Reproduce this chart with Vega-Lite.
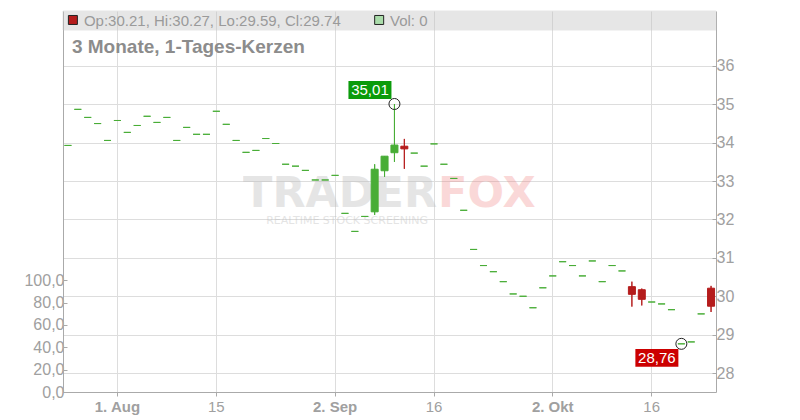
{
  "$schema": "https://vega.github.io/schema/vega-lite/v6.json",
  "width": 653,
  "height": 381,
  "autosize": {"type": "none"},
  "padding": {"left": 63, "top": 11, "right": 84, "bottom": 28},
  "background": "white",
  "config": {"font": "Liberation Sans", "view": {"stroke": null}},
  "datasets": {
    "ohlc": [
      {"d": "2025-07-25", "o": 33.93, "h": 33.93, "l": 33.93, "c": 33.93, "v": 0},
      {"d": "2025-07-28", "o": 34.87, "h": 34.87, "l": 34.87, "c": 34.87, "v": 0},
      {"d": "2025-07-29", "o": 34.66, "h": 34.66, "l": 34.66, "c": 34.66, "v": 0},
      {"d": "2025-07-30", "o": 34.50, "h": 34.50, "l": 34.50, "c": 34.50, "v": 0},
      {"d": "2025-07-31", "o": 34.06, "h": 34.06, "l": 34.06, "c": 34.06, "v": 0},
      {"d": "2025-08-01", "o": 34.58, "h": 34.58, "l": 34.58, "c": 34.58, "v": 0},
      {"d": "2025-08-04", "o": 34.27, "h": 34.27, "l": 34.27, "c": 34.27, "v": 0},
      {"d": "2025-08-05", "o": 34.45, "h": 34.45, "l": 34.45, "c": 34.45, "v": 0},
      {"d": "2025-08-06", "o": 34.69, "h": 34.69, "l": 34.69, "c": 34.69, "v": 0},
      {"d": "2025-08-07", "o": 34.53, "h": 34.53, "l": 34.53, "c": 34.53, "v": 0},
      {"d": "2025-08-08", "o": 34.66, "h": 34.66, "l": 34.66, "c": 34.66, "v": 0},
      {"d": "2025-08-11", "o": 34.06, "h": 34.06, "l": 34.06, "c": 34.06, "v": 0},
      {"d": "2025-08-12", "o": 34.40, "h": 34.40, "l": 34.40, "c": 34.40, "v": 0},
      {"d": "2025-08-13", "o": 34.22, "h": 34.22, "l": 34.22, "c": 34.22, "v": 0},
      {"d": "2025-08-14", "o": 34.22, "h": 34.22, "l": 34.22, "c": 34.22, "v": 0},
      {"d": "2025-08-15", "o": 34.82, "h": 34.82, "l": 34.82, "c": 34.82, "v": 0},
      {"d": "2025-08-18", "o": 34.48, "h": 34.48, "l": 34.48, "c": 34.48, "v": 0},
      {"d": "2025-08-19", "o": 34.06, "h": 34.06, "l": 34.06, "c": 34.06, "v": 0},
      {"d": "2025-08-20", "o": 33.75, "h": 33.75, "l": 33.75, "c": 33.75, "v": 0},
      {"d": "2025-08-21", "o": 33.80, "h": 33.80, "l": 33.80, "c": 33.80, "v": 0},
      {"d": "2025-08-22", "o": 34.11, "h": 34.11, "l": 34.11, "c": 34.11, "v": 0},
      {"d": "2025-08-25", "o": 33.98, "h": 33.98, "l": 33.98, "c": 33.98, "v": 0},
      {"d": "2025-08-26", "o": 33.44, "h": 33.44, "l": 33.44, "c": 33.44, "v": 0},
      {"d": "2025-08-27", "o": 33.39, "h": 33.39, "l": 33.39, "c": 33.39, "v": 0},
      {"d": "2025-08-28", "o": 33.28, "h": 33.28, "l": 33.28, "c": 33.28, "v": 0},
      {"d": "2025-08-29", "o": 33.03, "h": 33.03, "l": 33.03, "c": 33.03, "v": 0},
      {"d": "2025-09-01", "o": 33.03, "h": 33.03, "l": 33.03, "c": 33.03, "v": 0},
      {"d": "2025-09-02", "o": 33.15, "h": 33.15, "l": 33.15, "c": 33.15, "v": 0},
      {"d": "2025-09-03", "o": 32.16, "h": 32.16, "l": 32.16, "c": 32.16, "v": 0},
      {"d": "2025-09-04", "o": 31.69, "h": 31.69, "l": 31.69, "c": 31.69, "v": 0},
      {"d": "2025-09-05", "o": 32.08, "h": 32.08, "l": 32.08, "c": 32.08, "v": 0},
      {"d": "2025-09-08", "o": 32.20, "h": 33.44, "l": 32.12, "c": 33.31, "v": 0},
      {"d": "2025-09-09", "o": 33.27, "h": 33.65, "l": 33.11, "c": 33.65, "v": 0},
      {"d": "2025-09-10", "o": 33.74, "h": 35.01, "l": 33.50, "c": 33.94, "v": 0},
      {"d": "2025-09-11", "o": 33.91, "h": 34.10, "l": 33.32, "c": 33.84, "v": 0},
      {"d": "2025-09-12", "o": 33.73, "h": 33.73, "l": 33.73, "c": 33.73, "v": 0},
      {"d": "2025-09-15", "o": 33.39, "h": 33.39, "l": 33.39, "c": 33.39, "v": 0},
      {"d": "2025-09-16", "o": 33.97, "h": 33.97, "l": 33.97, "c": 33.97, "v": 0},
      {"d": "2025-09-17", "o": 33.44, "h": 33.44, "l": 33.44, "c": 33.44, "v": 0},
      {"d": "2025-09-18", "o": 33.07, "h": 33.07, "l": 33.07, "c": 33.07, "v": 0},
      {"d": "2025-09-19", "o": 32.24, "h": 32.24, "l": 32.24, "c": 32.24, "v": 0},
      {"d": "2025-09-22", "o": 31.22, "h": 31.22, "l": 31.22, "c": 31.22, "v": 0},
      {"d": "2025-09-23", "o": 30.80, "h": 30.80, "l": 30.80, "c": 30.80, "v": 0},
      {"d": "2025-09-24", "o": 30.64, "h": 30.64, "l": 30.64, "c": 30.64, "v": 0},
      {"d": "2025-09-25", "o": 30.38, "h": 30.38, "l": 30.38, "c": 30.38, "v": 0},
      {"d": "2025-09-26", "o": 30.06, "h": 30.06, "l": 30.06, "c": 30.06, "v": 0},
      {"d": "2025-09-29", "o": 30.00, "h": 30.00, "l": 30.00, "c": 30.00, "v": 0},
      {"d": "2025-09-30", "o": 29.70, "h": 29.70, "l": 29.70, "c": 29.70, "v": 0},
      {"d": "2025-10-01", "o": 30.22, "h": 30.22, "l": 30.22, "c": 30.22, "v": 0},
      {"d": "2025-10-02", "o": 30.53, "h": 30.53, "l": 30.53, "c": 30.53, "v": 0},
      {"d": "2025-10-03", "o": 30.90, "h": 30.90, "l": 30.90, "c": 30.90, "v": 0},
      {"d": "2025-10-06", "o": 30.80, "h": 30.80, "l": 30.80, "c": 30.80, "v": 0},
      {"d": "2025-10-07", "o": 30.53, "h": 30.53, "l": 30.53, "c": 30.53, "v": 0},
      {"d": "2025-10-08", "o": 30.92, "h": 30.92, "l": 30.92, "c": 30.92, "v": 0},
      {"d": "2025-10-09", "o": 30.38, "h": 30.38, "l": 30.38, "c": 30.38, "v": 0},
      {"d": "2025-10-10", "o": 30.80, "h": 30.80, "l": 30.80, "c": 30.80, "v": 0},
      {"d": "2025-10-13", "o": 30.66, "h": 30.66, "l": 30.66, "c": 30.66, "v": 0},
      {"d": "2025-10-14", "o": 30.25, "h": 30.38, "l": 29.73, "c": 30.05, "v": 0},
      {"d": "2025-10-15", "o": 30.17, "h": 30.20, "l": 29.76, "c": 29.92, "v": 0},
      {"d": "2025-10-16", "o": 29.85, "h": 29.85, "l": 29.85, "c": 29.85, "v": 0},
      {"d": "2025-10-17", "o": 29.80, "h": 29.80, "l": 29.80, "c": 29.80, "v": 0},
      {"d": "2025-10-20", "o": 29.65, "h": 29.65, "l": 29.65, "c": 29.65, "v": 0},
      {"d": "2025-10-21", "o": 28.76, "h": 28.76, "l": 28.76, "c": 28.76, "v": 0},
      {"d": "2025-10-22", "o": 28.81, "h": 28.81, "l": 28.81, "c": 28.81, "v": 0},
      {"d": "2025-10-23", "o": 29.54, "h": 29.54, "l": 29.54, "c": 29.54, "v": 0},
      {"d": "2025-10-24", "o": 30.21, "h": 30.27, "l": 29.59, "c": 29.74, "v": 0}
    ]
  },
  "data": {"name": "ohlc"},
  "resolve": {"scale": {"y": "independent"}},
  "layer": [
    {
      "mark": {"type": "bar", "size": 7, "opacity": 0},
      "encoding": {
        "x": {
          "field": "d", "type": "ordinal", "title": null,
          "scale": {"paddingInner": 0, "paddingOuter": 0},
          "axis": {
            "values": ["2025-08-01", "2025-08-15", "2025-09-02", "2025-09-16", "2025-10-02", "2025-10-16"],
            "labelExpr": "datum.value == '2025-08-01' ? '1. Aug' : datum.value == '2025-09-02' ? '2. Sep' : datum.value == '2025-10-02' ? '2. Okt' : datum.value == '2025-08-15' ? '15' : '16'",
            "labelFontWeight": {"condition": {"test": "datum.value == '2025-08-01' || datum.value == '2025-09-02' || datum.value == '2025-10-02'", "value": "bold"}, "value": "normal"},
            "labelAngle": 0, "labelFontSize": 15, "labelColor": "#a0a0a0",
            "grid": true, "gridColor": "#dddddd",
            "tickSize": 4, "tickColor": "#aaaaaa", "domainColor": "#aaaaaa", "labelPadding": 3
          }
        },
        "y": {
          "field": "v", "type": "quantitative",
          "scale": {"domain": [0, 341], "nice": false, "zero": true},
          "axis": {
            "orient": "left", "title": null, "grid": false,
            "values": [0, 20, 40, 60, 80, 100],
            "labelExpr": "replace(format(datum.value, '.1f'), '.', ',')",
            "tickSize": -4, "labelPadding": 3,
            "domainColor": "#aaaaaa", "tickColor": "#aaaaaa",
            "labelColor": "#a0a0a0", "labelFontSize": 16
          }
        }
      }
    },
    {
      "data": {"values": [{"k": "header"}]},
      "mark": {"type": "rect", "fill": "#c4c4c4", "opacity": 0.42, "stroke": "#c8c8c8", "strokeWidth": 1},
      "encoding": {
        "y": {"datum": 37.433, "type": "quantitative", "scale": {"domain": [27.505, 37.433], "nice": false, "zero": false}, "axis": null},
        "y2": {"datum": 36.938}
      }
    },
    {
      "mark": {"type": "rule", "strokeWidth": 1},
      "encoding": {
        "x": {"field": "d", "type": "ordinal", "title": null},
        "y": {
          "field": "l", "type": "quantitative", "title": null,
          "scale": {"domain": [27.505, 37.433], "nice": false, "zero": false},
          "axis": {
            "orient": "right", "values": [28, 29, 30, 31, 32, 33, 34, 35, 36],
            "format": "d", "grid": true, "gridColor": "#dddddd",
            "tickSize": -4, "labelPadding": 4, "tickColor": "#aaaaaa", "domainColor": "#aaaaaa",
            "labelColor": "#a0a0a0", "labelFontSize": 16
          }
        },
        "y2": {"field": "h"},
        "color": {"condition": {"test": "datum.c < datum.o", "value": "#b51c1c"}, "value": "#48ad36"}
      }
    },
    {
      "data": {"values": [{"t": "TRADER"}]},
      "mark": {"type": "text", "align": "right", "baseline": "alphabetic", "dx": 3, "font": "DejaVu Sans", "fontWeight": "bold", "fontSize": 43, "color": "#bdbdbd", "opacity": 0.38},
      "encoding": {
        "x": {"datum": "2025-09-16", "type": "ordinal", "title": null},
        "y": {"datum": 32.326, "type": "quantitative", "scale": {"domain": [27.505, 37.433], "nice": false, "zero": false}, "axis": null},
        "text": {"field": "t"}
      }
    },
    {
      "data": {"values": [{"t": "FOX"}]},
      "mark": {"type": "text", "align": "left", "baseline": "alphabetic", "dx": 4, "font": "DejaVu Sans", "fontWeight": "bold", "fontSize": 43, "color": "#f07f7f", "opacity": 0.3},
      "encoding": {
        "x": {"datum": "2025-09-16", "type": "ordinal", "title": null},
        "y": {"datum": 32.326, "type": "quantitative", "scale": {"domain": [27.505, 37.433], "nice": false, "zero": false}, "axis": null},
        "text": {"field": "t"}
      }
    },
    {
      "data": {"values": [{"t": "REALTIME STOCK SCREENING"}]},
      "mark": {"type": "text", "align": "right", "baseline": "alphabetic", "dx": -6, "font": "DejaVu Sans", "fontSize": 11, "color": "#bdbdbd", "opacity": 0.4},
      "encoding": {
        "x": {"datum": "2025-09-16", "type": "ordinal", "title": null},
        "y": {"datum": 31.89, "type": "quantitative", "scale": {"domain": [27.505, 37.433], "nice": false, "zero": false}, "axis": null},
        "text": {"field": "t"}
      }
    },
    {
      "mark": {"type": "rule", "strokeWidth": 1},
      "encoding": {
        "x": {"field": "d", "type": "ordinal", "title": null},
        "y": {"field": "l", "type": "quantitative", "scale": {"domain": [27.505, 37.433], "nice": false, "zero": false}, "axis": null},
        "y2": {"field": "h"},
        "color": {"condition": {"test": "datum.c < datum.o", "value": "#b51c1c"}, "value": "#48ad36"}
      }
    },
    {
      "mark": {"type": "bar", "size": 7, "strokeWidth": 1},
      "encoding": {
        "x": {"field": "d", "type": "ordinal", "title": null},
        "y": {"field": "o", "type": "quantitative", "scale": {"domain": [27.505, 37.433], "nice": false, "zero": false}, "axis": null},
        "y2": {"field": "c"},
        "color": {"condition": {"test": "datum.c < datum.o", "value": "#b51c1c"}, "value": "#48ad36"},
        "stroke": {"condition": {"test": "datum.c < datum.o", "value": "#b51c1c"}, "value": "#48ad36"}
      }
    },
    {
      "data": {"values": [{"d": "2025-09-10", "p": 35.01}]},
      "mark": {"type": "point", "shape": "M-2,-1L-0.13,-1L-0.13,-0.22L-2,-0.22Z", "size": 2116, "filled": true, "color": "#0b9b0b", "opacity": 1},
      "encoding": {
        "x": {"field": "d", "type": "ordinal", "title": null},
        "y": {"field": "p", "type": "quantitative", "scale": {"domain": [27.505, 37.433], "nice": false, "zero": false}, "axis": null}
      }
    },
    {
      "data": {"values": [{"d": "2025-10-21", "p": 28.76}]},
      "mark": {"type": "point", "shape": "M-2,0.22L-0.13,0.22L-0.13,1L-2,1Z", "size": 2116, "filled": true, "color": "#cc0000", "opacity": 1},
      "encoding": {
        "x": {"field": "d", "type": "ordinal", "title": null},
        "y": {"field": "p", "type": "quantitative", "scale": {"domain": [27.505, 37.433], "nice": false, "zero": false}, "axis": null}
      }
    },
    {
      "data": {"values": [{"d": "2025-09-10", "p": 35.01}, {"d": "2025-10-21", "p": 28.76}]},
      "mark": {"type": "point", "shape": "circle", "size": 121, "filled": false, "stroke": "#222222", "strokeWidth": 1, "opacity": 1},
      "encoding": {
        "x": {"field": "d", "type": "ordinal", "title": null},
        "y": {"field": "p", "type": "quantitative", "scale": {"domain": [27.505, 37.433], "nice": false, "zero": false}, "axis": null}
      }
    },
    {
      "data": {"values": [{"d": "2025-09-10", "p": 35.01, "t": "35,01"}]},
      "mark": {"type": "text", "align": "center", "baseline": "middle", "dx": -24.5, "dy": -13.5, "fontSize": 15, "color": "white"},
      "encoding": {
        "x": {"field": "d", "type": "ordinal", "title": null},
        "y": {"field": "p", "type": "quantitative", "scale": {"domain": [27.505, 37.433], "nice": false, "zero": false}, "axis": null},
        "text": {"field": "t"}
      }
    },
    {
      "data": {"values": [{"d": "2025-10-21", "p": 28.76, "t": "28,76"}]},
      "mark": {"type": "text", "align": "center", "baseline": "middle", "dx": -24.5, "dy": 14.5, "fontSize": 15, "color": "white"},
      "encoding": {
        "x": {"field": "d", "type": "ordinal", "title": null},
        "y": {"field": "p", "type": "quantitative", "scale": {"domain": [27.505, 37.433], "nice": false, "zero": false}, "axis": null},
        "text": {"field": "t"}
      }
    },
    {
      "data": {"values": [{"t": "3 Monate, 1-Tages-Kerzen"}]},
      "mark": {"type": "text", "align": "left", "baseline": "alphabetic", "dx": 4, "fontSize": 19, "fontWeight": "bold", "color": "#8c8c8c"},
      "encoding": {
        "x": {"datum": "2025-07-25", "type": "ordinal", "title": null},
        "y": {"datum": 36.331, "type": "quantitative", "scale": {"domain": [27.505, 37.433], "nice": false, "zero": false}, "axis": null},
        "text": {"field": "t"}
      }
    },
    {
      "data": {"values": [{"t": "Op:30.21, Hi:30.27, Lo:29.59, Cl:29.74"}]},
      "mark": {"type": "text", "align": "left", "baseline": "alphabetic", "dx": 16, "fontSize": 15, "color": "#9a9a9a"},
      "encoding": {
        "x": {"datum": "2025-07-25", "type": "ordinal", "title": null},
        "y": {"datum": 37.042, "type": "quantitative", "scale": {"domain": [27.505, 37.433], "nice": false, "zero": false}, "axis": null},
        "text": {"field": "t"}
      }
    },
    {
      "data": {"values": [{"t": "Vol: 0"}]},
      "mark": {"type": "text", "align": "left", "baseline": "alphabetic", "dx": 15.3, "fontSize": 15, "color": "#9a9a9a"},
      "encoding": {
        "x": {"datum": "2025-09-08", "type": "ordinal", "title": null},
        "y": {"datum": 37.042, "type": "quantitative", "scale": {"domain": [27.505, 37.433], "nice": false, "zero": false}, "axis": null},
        "text": {"field": "t"}
      }
    },
    {
      "data": {"values": [{"k": "ohlc"}]},
      "mark": {"type": "point", "shape": "M0.1,-1L2.1,-1L2.1,1L0.1,1Z", "size": 81, "filled": true, "color": "#b51c1c", "stroke": "#222222", "strokeWidth": 1, "opacity": 1},
      "encoding": {
        "x": {"datum": "2025-07-25", "type": "ordinal", "title": null},
        "y": {"datum": 37.199, "type": "quantitative", "scale": {"domain": [27.505, 37.433], "nice": false, "zero": false}, "axis": null}
      }
    },
    {
      "data": {"values": [{"k": "vol"}]},
      "mark": {"type": "point", "shape": "M0,-1L2,-1L2,1L0,1Z", "size": 81, "filled": true, "color": "#aadcaa", "stroke": "#222222", "strokeWidth": 1, "opacity": 1},
      "encoding": {
        "x": {"datum": "2025-09-08", "type": "ordinal", "title": null},
        "y": {"datum": 37.199, "type": "quantitative", "scale": {"domain": [27.505, 37.433], "nice": false, "zero": false}, "axis": null}
      }
    }
  ]
}
